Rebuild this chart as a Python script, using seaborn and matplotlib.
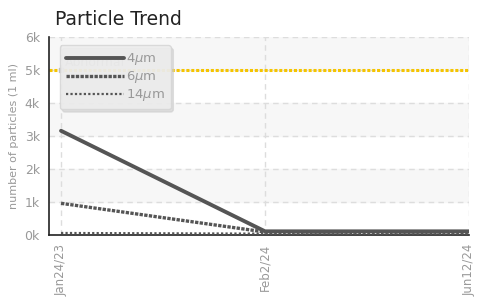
import matplotlib.pyplot as plt
import pandas as pd
import seaborn as sns

# data
dates = ["Jan24/23", "Feb2/24", "Jun12/24"]
p4 = [3150, 100, 100]
p6 = [950, 80, 80]
p14 = [50, 30, 30]
abnormal = 5000
yticks = [0, 1000, 2000, 3000, 4000, 5000, 6000]
ytick_labels = ["0k", "1k", "2k", "3k", "4k", "5k", "6k"]

sns.set_style("white")
plt.rcParams.update({
    "font.family": ["DejaVu Sans"],
    "mathtext.fontset": "dejavusans",
})

df = pd.DataFrame({
    "date": dates * 3,
    "count": p4 + p6 + p14,
    "size": ["4$\\mu$m"] * 3 + ["6$\\mu$m"] * 3 + ["14$\\mu$m"] * 3,
})

fig = plt.figure(figsize=(4.83, 2.97), dpi=100)
ax = fig.add_axes([0.101, 0.21, 0.870, 0.666])

# alternating bands
for lo in [1000, 3000, 5000]:
    ax.axhspan(lo, lo + 1000, color="#f7f7f7", zorder=0)

grey = "#555555"
styles = {"4$\\mu$m": ("-", 2.8), "6$\\mu$m": ((0, (1, 0.4)), 2.4), "14$\\mu$m": ((0, (1, 1)), 1.6)}
for name, (ls, lw) in styles.items():
    sub = df[df["size"] == name]
    sns.lineplot(data=sub, x="date", y="count", ax=ax, color=grey,
                 linestyle=ls, linewidth=lw, label=name, sort=False, zorder=3)

ax.axhline(abnormal, color="#f5c400", linestyle=(0, (1, 0.6)), linewidth=2.2, zorder=2)
ax.plot([0], [abnormal], marker="s", markersize=3, color="#bbbbbb", zorder=2)
ax.text(0.02, abnormal + 120, "Abnormal", color="#aaaaaa", fontsize=9, zorder=2)

ax.set_xlim(-0.06, 2)
ax.set_ylim(0, 6000)
ax.set_yticks(yticks)
ax.set_yticklabels(ytick_labels)
ax.set_xlabel("")
ax.set_ylabel("number of particles (1 ml)", color="#999999", fontsize=8)
ax.tick_params(axis="both", colors="#222222", labelcolor="#999999", length=3, width=1)
ax.tick_params(axis="y", labelsize=9)
ax.tick_params(axis="x", labelsize=8.5, rotation=90)
ax.grid(True, linestyle=(0, (4, 3)), color="#dddddd", linewidth=1)
for s in ["top", "right"]:
    ax.spines[s].set_visible(False)
for s in ["left", "bottom"]:
    ax.spines[s].set_color("#222222")
    ax.spines[s].set_linewidth(1.2)

leg = ax.legend(loc="upper left", bbox_to_anchor=(0.01, 0.99), handlelength=4.4,
                fontsize=9.5, frameon=True, fancybox=True,
                shadow={"color": "#cccccc", "alpha": 0.6},
                facecolor="#eeeeee", edgecolor="#d5d5d5", framealpha=0.85,
                labelspacing=0.15, handletextpad=0.15, borderpad=0.45)
for t in leg.get_texts():
    t.set_color("#999999")

fig.text(0.113, 0.915, "Particle Trend", fontsize=13.5, color="#222222")

fig.savefig("out.png", dpi=100)
